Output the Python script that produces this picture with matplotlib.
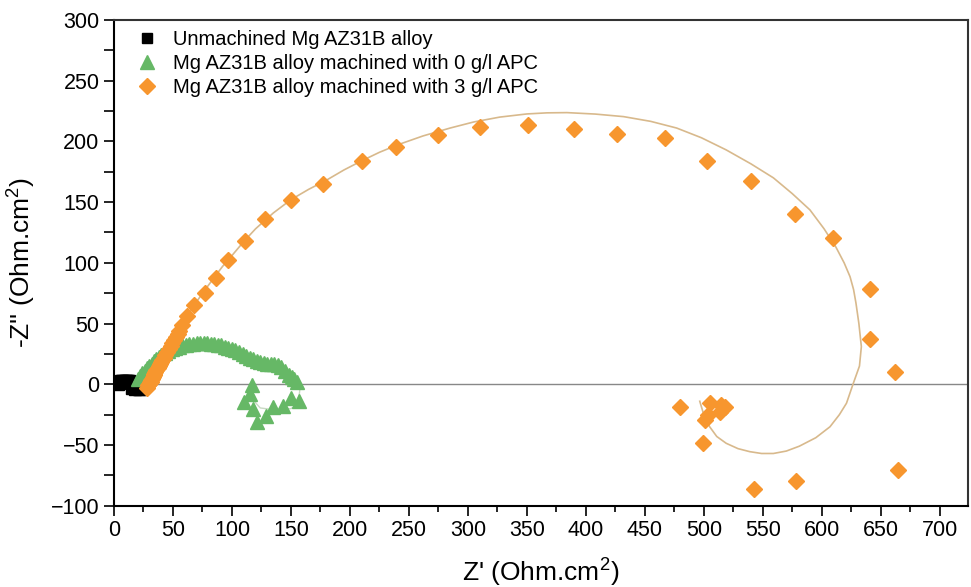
import numpy as np
import matplotlib
matplotlib.use('Agg')
import matplotlib.pyplot as plt
from matplotlib.ticker import MultipleLocator

plt.rcParams['font.family'] = ['Liberation Sans', 'DejaVu Sans']
plt.rcParams['mathtext.fontset'] = 'custom'
plt.rcParams['mathtext.rm'] = 'Liberation Sans'

# unmachined alloy
unm_x = [3, 4, 5, 6, 7, 8, 9, 10, 11, 12, 13, 14, 15, 16, 17, 18, 19, 20, 21, 22, 15, 18]
unm_y = [0, 1, 2, 2.5, 3, 3, 3, 3, 3, 3, 2.5, 2, 1.5, 1, 0, -1, -2, -3, -3.5, -3.5, -3, -4]

# machined with 0 g/l APC
apc0_x = [20, 22, 24, 26, 28, 30, 32, 34, 36, 38, 40, 43, 46, 49, 52, 55, 58, 61, 64, 67,
          70, 73, 76, 79, 82, 85, 88, 91, 94, 97, 100, 103, 106, 109, 112, 115, 118, 121, 124, 127,
          130, 133, 136, 139, 142, 145, 148, 151, 153, 155,
          157, 150, 143, 135, 129, 121, 118, 110, 115, 117]
apc0_y = [4, 7, 9, 11, 13, 15, 17, 19, 21, 22.5, 24, 26, 27.5, 29, 30, 31, 32, 32.5, 33, 33.5,
          34, 34, 34, 34, 33.5, 33, 32.5, 32, 31, 30, 29, 28, 26.5, 25, 23.5, 22, 20.5, 19, 18, 17.5,
          17, 16.5, 17, 16, 14, 11, 8, 6, 4, 2,
          -14, -11, -18, -19, -26, -31, -20, -15, -8, -1]
apc0_fit_x = [18, 30, 50, 80, 110, 140, 155, 157.5, 156, 150, 141, 132, 124, 117]
apc0_fit_y = [2, 15, 29, 34, 25, 15, 3, -5, -17, -20, -21, -20.5, -19.5, -12]

# machined with 3 g/l APC
apc3_x = [28, 29, 30, 30.5, 31, 31.5, 32, 33, 33.5, 34, 35, 36, 37, 38, 39, 40, 41, 42, 43.5, 45,
          46.5, 48, 49.5, 51, 52.5, 54, 55.5, 57.4, 62.1, 67.8, 77.1, 86.2, 96.9, 111, 128, 150,
          177.4, 210, 239.5, 275, 310, 351, 390, 426.5, 467, 503, 540, 577, 609.6, 640.7, 641.3,
          662, 664.4, 578, 542.4, 499.4, 479.7, 500.8, 503.7, 505, 513.6, 515, 517.8]
apc3_y = [-3, -1, 0, 1.5, 2, 3.5, 4.5, 6, 7.5, 8.5, 10, 12, 13.5, 15, 17, 18.5, 20, 22, 24, 26.5,
          29, 31.5, 34, 36.5, 39, 41.5, 44, 48.8, 56.3, 65.3, 75, 87.8, 102.4, 118, 136, 151.5,
          164.7, 184.2, 195.7, 205.5, 212, 213.6, 210.5, 206, 202.6, 184.2, 167.7, 140.3, 120.3, 78.2, 37.3,
          10, -70.5, -79.6, -86.5, -48.1, -18.4, -29.4, -25.3, -15.7, -22.5, -17, -18.4]
apc3_fit_x = [28, 32, 35, 40, 45, 51, 57, 63, 70, 77, 85, 92, 100, 110, 120, 135, 150, 165, 180, 195,
              210, 225, 240, 262, 285, 305, 327, 350, 367, 384, 408, 432, 455, 477, 498, 519, 540, 559,
              575, 590, 602, 612, 619, 624, 627, 629, 631.5, 633.6, 632, 626.5, 621, 615, 607, 595,
              581, 570, 559, 549, 539, 529, 519, 511, 505, 500, 496.6]
apc3_fit_y = [-2, 4, 10, 18.5, 27, 37, 48, 57.5, 68, 77.5, 88, 97, 106, 117.5, 128, 141, 152, 160.5, 168, 176.5,
              184, 191, 197, 204.5, 211, 216, 220, 222.6, 223.5, 223.7, 222.5, 220.4, 216.5, 211, 203, 193, 181.5, 170,
              157, 143.6, 128, 113, 100, 88.6, 78, 67, 50, 31, 15, 0, -15.6, -25, -35, -44,
              -51, -55, -57, -57, -55.5, -53, -48.6, -43, -35, -25, -14]

fig = plt.figure(figsize=(9.71, 5.87), dpi=100)
ax = fig.add_axes([0.1174, 0.1385, 0.8795, 0.8275])

ax.axhline(0, color='#888888', lw=1, zorder=1)
ax.plot(apc0_fit_x, apc0_fit_y, color='#c9d9c4', lw=1, zorder=2)
ax.plot(apc3_fit_x, apc3_fit_y, color='#d8b98c', lw=1.2, zorder=2)

ax.plot(unm_x, unm_y, 's', color='black', ms=8, ls='none', zorder=3,
        label='Unmachined Mg AZ31B alloy')
ax.plot(apc0_x, apc0_y, '^', color='#66b866', ms=10, ls='none', zorder=3,
        label='Mg AZ31B alloy machined with 0 g/l APC')
ax.plot(apc3_x, apc3_y, 'D', color='#f7962e', ms=8.5, ls='none', zorder=4,
        label='Mg AZ31B alloy machined with 3 g/l APC')

ax.set_xlim(0, 724)
ax.set_ylim(-100, 300)
ax.xaxis.set_major_locator(MultipleLocator(50))
ax.xaxis.set_minor_locator(MultipleLocator(25))
ax.yaxis.set_major_locator(MultipleLocator(50))
ax.yaxis.set_minor_locator(MultipleLocator(25))
ax.tick_params(axis='x', which='major', direction='out', length=7, width=1.2, labelsize=15.5)
ax.tick_params(axis='x', which='minor', direction='out', length=4, width=1.2)
ax.tick_params(axis='y', which='major', direction='out', length=7, width=1.2, labelsize=15.5)
ax.tick_params(axis='y', which='minor', direction='out', length=7, width=1.2)
for s in ax.spines.values():
    s.set_linewidth(1.5)
ax.spines['top'].set_color('#333333')
ax.spines['right'].set_color('#333333')

ax.set_xlabel("Z' (Ohm.cm$^2$)", fontsize=19, labelpad=10)
ax.set_ylabel("-Z'' (Ohm.cm$^2$)", fontsize=19, labelpad=10)

ax.legend(loc='upper left', frameon=False, fontsize=14.5, handlelength=1.0,
          handletextpad=0.8, borderaxespad=0.1, labelspacing=0.25, markerscale=0.95,
          bbox_to_anchor=(0.015, 1.0))

fig.savefig('out.png', dpi=100)
